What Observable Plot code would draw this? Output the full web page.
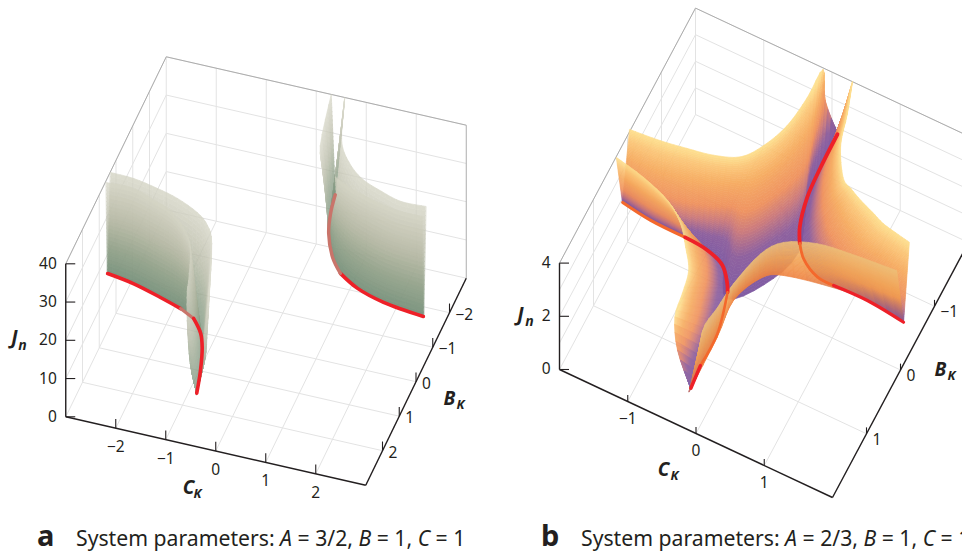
<!DOCTYPE html>
<html><head><meta charset="utf-8">
<script src="https://cdn.jsdelivr.net/npm/d3@7"></script>
<script src="https://cdn.jsdelivr.net/npm/@observablehq/plot@0.6"></script>
<style>
html,body{margin:0;padding:0;background:#fff;width:962px;height:551px;overflow:hidden;font-family:"Noto Sans",sans-serif;color:#231f20}
#chart svg{display:block}
#cap{position:relative;height:36px;width:962px;white-space:nowrap}
#cap span{position:absolute;top:11px;font-size:21.2px;line-height:24px}
#cap b{position:absolute;top:5px;font-size:29px;line-height:30px;font-weight:700}
.op95{opacity:.95}.op92{opacity:.92}.op90{opacity:.9}.op80{opacity:.8}.op76{opacity:.76}
</style></head><body>
<div id="chart"></div>
<div id="cap"><b style="left:37px">a</b><span style="left:76px">System parameters: <i>A</i> = 3/2, <i>B</i> = 1, <i>C</i> = 1</span>
<b style="left:541px">b</b><span style="left:581px">System parameters: <i>A</i> = 2/3, <i>B</i> = 1, <i>C</i> = 1</span></div>
<script>
// ---------- axis values ----------
const ticksCA=[-2,-1,0,1,2], ticksBA=[-2,-1,0,1,2], ticksJA=[0,10,20,30,40];
const ticksCB=[-1,0,1], ticksBB=[-1,0,1], ticksJB=[0,2,4];
const gridJB=[1,2,3,4];
// ---------- panel a: [C_K, B_K, J_n] ----------
const redLeftA=[[-3.03,.41,14],[-2.48,.52,14],[-1.87,.72,14],[-1.41,.89,14],[-1.09,1.07,14],[-.83,1.42,14],[-.68,1.78,14],[-.51,2.39,14],[-.38,3,14]];
const redRightA=[[3.03,-.35,14],[2.19,-.48,14],[1.6,-.69,14],[1.16,-.98,14],[.88,-1.35,14],[.6,-1.95,14],[.46,-2.48,14],[.38,-3,14]];
const topLeftBackA=[[-2.99,.35,40],[-2.52,.37,40],[-2,.49,40],[-1.56,.63,40],[-1.08,.88,40],[-.78,1.16,40],[-.55,1.6,40],[-.13,3,40],[-.17,3,31],[-.21,3,23.8],[-.35,3,16.6],[-.38,3,14]];
const topLeftFrontA=[[-2.98,.64,40],[-2.5,.62,40],[-2.05,.77,40],[-1.58,.99,40],[-1.2,1.35,40],[-.9,1.83,40],[-.64,2.71,40],[-.57,3,40],[-.57,3,32.4],[-.51,3,21.4],[-.38,3,14]];
const topRightFrontA=[[3,-.35,40],[2.5,-.37,40],[2,-.49,40],[1.56,-.63,40],[1.08,-.88,40],[.78,-1.16,40],[.55,-1.6,40],[.3,-3,40]];
const topRightBackA=[[2.98,-.64,40],[2.5,-.62,40],[2.05,-.77,40],[1.58,-.99,40],[1.2,-1.35,40],[.9,-1.83,40],[.65,-2.7,40],[.57,-3,40]];
// ---------- panel b: [C_K, B_K, J_n] ----------
const redOneB=[[-2.02,.1,1.7],[-1.58,.16,1.7],[-1.07,.17,1.7],[-.73,.2,1.7],[-.46,.3,1.7],[-.29,.5,1.7],[-.23,.61,1.7],[-.09,1.19,1.7],[-.09,1.69,1.7],[-.06,2.03,1.7]];
const redTwoB=[[.07,-2.02,1.7],[.08,-1.5,1.7],[.11,-1.05,1.7],[.21,-.63,1.7],[.31,-.43,1.7],[.45,-.26,1.7],[.73,-.11,1.7],[.97,-.1,1.7],[1.46,-.11,1.7],[2.02,-.05,1.7]];
const archTopB=[[-2.01,-.09,4],[-1.58,-.13,4],[-1.22,-.19,4],[-.87,-.26,4],[-.54,-.4,4],[-.34,-.68,4],[-.19,-1.07,4],[-.13,-1.54,4],[-.12,-1.98,4],[-.1,-2,2.82],[.07,-2.02,1.75]];
const archBaseB=[[-2.02,.1,1.7],[-1.58,.16,1.7],[-1.07,.17,1.7],[-.73,.2,1.7],[-.46,.3,1.7],[-.2,.7,1.7],[.15,.3,1.7],[.35,-.3,1.7],[.11,-1.05,1.7],[.08,-1.5,1.7],[.07,-2.02,1.7]];
const archRightB=[[.3,-2,4],[.44,-1.57,4],[.56,-1.13,4],[.79,-.74,4],[.95,-.65,4],[1.14,-.56,4],[1.35,-.48,4],[1.55,-.4,4],[1.8,-.35,4],[1.97,-.32,4]];
const archLeftB=[[-1.99,.34,4],[-1.55,.43,4],[-1.12,.58,4],[-.83,.79,4],[-.62,1.06,4],[-.44,1.33,4],[-.37,1.66,4],[-.31,2,4],[-.27,2,2.8],[-.08,2,1.62]];
const bandLowB=[[-.06,2.03,1.7],[-.06,2.03,1.7],[-.02,1.34,2],[-.06,.78,2],[.12,.34,2],[.37,.17,2],[1.03,.03,2],[1.51,-.01,2],[2.02,-.05,1.7]];
const bandTopB=[[.07,2,2.55],[.1,2,4],[.13,1.63,4],[.17,1.23,4],[.3,.7,4],[.5,.42,4],[.9,.24,4],[1.35,.17,4],[2,.11,4]];
// how quickly each column of a heat sheet leaves purple
const toneArch=[.75,.75,.85,1.05,1.3,1.45,1.45,1.3,1.15,1,1];
const toneRight=[1.1,1.2,1.3,1.3,1.15,1,.9,.8,.75,.7];
const toneLeft=[.7,.7,.75,.85,1.05,1.3,1.3,1.3,1.1,1];

// ---------- oblique views of the two boxes ----------
const viewOf=v=>([c,b,j])=>[v.x0+v.xc*c+v.xb*b, v.y0+v.yc*c+v.yb*b+v.yj*j];
const viewA=viewOf({x0:265.5,xc:50,xb:-16.75,y0:347,yc:11.4,yb:34.5,yj:-3.825});
const viewB=viewOf({x0:763.5,xc:68.25,xb:-34,y0:305.5,yc:32,yb:63.75,yj:-26.6});

// ---------- colours ----------
const rampGreen=d3.scaleLinear([0,.3,.6,1],["#76907a","#94a38b","#b8baa6","#d6d5c6"]);
const rampHeat=d3.scaleLinear([0,.15,.3,.45,.7,.88,1],["#7b559f","#8a5a9a","#c97578","#ef8f5a","#f6a95c","#fbc474","#fddf8c"]);
const rampBand=d3.scaleLinear([.1,.3,.6,1],["#ee7f3e","#f08f48","#f2a556","#eebf78"]);
const frac=(j,lo,hi)=>Math.max(0,Math.min(1,(j-lo)/(hi-lo)));
const greenAt=(j)=>rampGreen(frac(j,14,40));
const heatAt=tone=>(j,u)=>{
  const i=Math.min(Math.floor(u),tone.length-2),g=tone[i]+(tone[i+1]-tone[i])*(u-i);
  return rampHeat(Math.pow(frac(j,1.7,4),g));
};
const bandAt=(j,u)=>{
  const k=Math.max(0,Math.min(1,Math.max((u-5.5)/2,(1.5-u)/1.5))),f=frac(j,1.7,4);
  return d3.interpolateRgb(rampBand(f),"#7b559f")(k*Math.max(0,1-f/.45)*.95);
};

function spline(a,u){
  const i=Math.min(Math.floor(u),a.length-2),t=u-i;
  const p0=a[Math.max(i-1,0)],p1=a[i],p2=a[i+1],p3=a[Math.min(i+2,a.length-1)];
  return p1.map((_,k)=>.5*(2*p1[k]+(p2[k]-p0[k])*t+(2*p0[k]-5*p1[k]+4*p2[k]-p3[k])*t*t+(3*p1[k]-p0[k]-3*p2[k]+p3[k])*t*t*t));
}
function sheet(view,base,top,colorAt,sub=4,rows=24){
  const n=Math.max(base.length,top.length);
  const pad=a=>a.concat(Array(n-a.length).fill(a[a.length-1]));
  const B=pad(base),T=pad(top),cells=[];
  const mesh=(u,t)=>{const p=spline(B,u),q=spline(T,u);return p.map((v,k)=>v+(q[k]-v)*t);};
  for(let k=0;k<(n-1)*sub;k++){
    const u0=k/sub,u1=(k+1)/sub;
    for(let r=0;r<rows;r++){
      const t0=r/rows,t1=(r+1)/rows,p=view(mesh(u0,t0));
      cells.push({color:colorAt(mesh((u0+u1)/2,(t0+t1)/2)[2],(u0+u1)/2),
        geometry:{type:"Polygon",coordinates:[[p,view(mesh(u1,t0)),view(mesh(u1,t1)),view(mesh(u0,t1)),p]]}});
    }
  }
  return cells;
}
const surface=(cells,cls)=>Plot.geo(cells,{geometry:d=>d.geometry,fill:d=>d.color,stroke:d=>d.color,strokeWidth:.7,className:cls});
const segs=(view,list,o)=>Plot.link(list,{x1:d=>view(d[0])[0],y1:d=>view(d[0])[1],x2:d=>view(d[1])[0],y2:d=>view(d[1])[1],...o});
const redPiece=(view,arr,from,to,color,w)=>Plot.line(arr.slice(from,to+1),{x:d=>view(d)[0],y:d=>view(d)[1],stroke:color,strokeWidth:w,curve:"catmull-rom"});

function box(view,cs,bs,js,gridJ,cr,br,jm){
  const g=[];
  cs.forEach(c=>{g.push([[c,-br,0],[c,br,0]],[[c,-br,0],[c,-br,jm]]);});
  bs.forEach(b=>{g.push([[-cr,b,0],[cr,b,0]],[[-cr,b,0],[-cr,b,jm]]);});
  gridJ.forEach(j=>{g.push([[-cr,-br,j],[cr,-br,j]],[[-cr,-br,j],[-cr,br,j]]);});
  g.push([[-cr,-br,0],[cr,-br,0]],[[-cr,-br,0],[-cr,br,0]],[[-cr,-br,0],[-cr,-br,jm]],[[cr,-br,0],[cr,br,0]]);
  const edge=[[[-cr,br,jm],[-cr,-br,jm]],[[-cr,-br,jm],[cr,-br,jm]],[[cr,-br,jm],[cr,-br,0]]];
  const axis=[[[-cr,br,0],[-cr,br,jm]],[[-cr,br,0],[cr,br,0]],[[cr,br,0],[cr,-br,0]]];
  const hgt=jm*.06;
  const tk=[...cs.map(c=>[[c,br,0],[c,br,hgt]]),...bs.map(b=>[[cr,b,0],[cr,b,hgt]])];
  return {grid:segs(view,g,{stroke:"#e3e3e3",strokeWidth:1}),
    edge:segs(view,edge,{stroke:"#adadad",strokeWidth:1}),
    axis:segs(view,axis,{stroke:"#231f20",strokeWidth:1.4}),
    ticks:segs(view,tk,{stroke:"#231f20",strokeWidth:1.1}),
    jt:Plot.link(js,{x1:j=>view([-cr,br,j])[0],y1:j=>view([-cr,br,j])[1],x2:j=>view([-cr,br,j])[0]+9.5,y2:j=>view([-cr,br,j])[1],stroke:"#231f20",strokeWidth:1.1})};
}
const num=v=>v<0?"\u2212"+(-v):String(v);
const tickText=(vals,at,o)=>Plot.text(vals,{x:v=>at(v)[0],y:v=>at(v)[1],text:num,fontSize:15.5,fill:"#231f20",...o});
const nameText=(str,p,size)=>Plot.text([str],{x:()=>p[0],y:()=>p[1],text:d=>d,fontSize:size,fontWeight:700,fontStyle:"italic",fill:"#231f20"});

const a=box(viewA,ticksCA,ticksBA,ticksJA,ticksJA.slice(1),3,3,40);
const b=box(viewB,ticksCB,ticksBB,ticksJB,gridJB,2,2,4);
const RED="#ee2028",DULL_A="#c9746a",ORANGE="#f4682c";

const chart=Plot.plot({
  width:962,height:515,margin:0,
  style:{fontFamily:'"Noto Sans",sans-serif',background:"#fff"},
  x:{domain:[0,962],range:[0,962],axis:null},
  y:{domain:[0,515],range:[0,515],axis:null},
  color:{type:"identity"},
  marks:[
    a.grid,a.edge,
    surface(sheet(viewA,redLeftA,topLeftBackA,greenAt),"op80"),
    surface(sheet(viewA,redRightA,topRightBackA,greenAt),"op80"),
    surface(sheet(viewA,redLeftA,topLeftFrontA,greenAt),"op76"),
    surface(sheet(viewA,redRightA,topRightFrontA,greenAt),"op76"),
    redPiece(viewA,redLeftA,0,3,RED,3.6),redPiece(viewA,redLeftA,3,4,DULL_A,3.2),redPiece(viewA,redLeftA,4,8,RED,3.6),
    redPiece(viewA,redRightA,0,3,RED,3.6),redPiece(viewA,redRightA,3,7,DULL_A,3.4),
    a.axis,a.ticks,a.jt,
    tickText(ticksCA,c=>viewA([c,3,0]),{dy:19}),
    tickText(ticksBA,v=>viewA([3,v,0]),{dx:6,dy:2,textAnchor:"start"}),
    tickText(ticksJA,j=>viewA([-3,3,j]),{dx:-9,textAnchor:"end"}),
    nameText("C",[188,487],19),nameText("\u039a",[197,493],13),
    nameText("B",[449,398],19),nameText("\u039a",[460,404],13),
    nameText("J",[14,337],19),nameText("n",[22,345],14),

    b.grid,b.edge,
    surface(sheet(viewB,archBaseB,archTopB,heatAt(toneArch),4,50),"op95"),
    surface(sheet(viewB,redTwoB,archRightB,heatAt(toneRight),4,50),"op95"),
    surface(sheet(viewB,redOneB,archLeftB,heatAt(toneLeft),4,50),"op90"),
    surface(sheet(viewB,bandLowB,bandTopB,bandAt,4,30),"op92"),
    redPiece(viewB,redOneB,0,2,ORANGE,3.2),redPiece(viewB,redOneB,2,6,RED,3.8),redPiece(viewB,redOneB,6,8,ORANGE,2.6),redPiece(viewB,redOneB,8,9,RED,3.4),
    redPiece(viewB,redTwoB,0,4,RED,3.8),redPiece(viewB,redTwoB,4,7,ORANGE,2.8),redPiece(viewB,redTwoB,7,9,RED,3.2),
    b.axis,b.ticks,b.jt,
    tickText(ticksCB,c=>viewB([c,2,0]),{dy:18}),
    tickText(ticksBB,v=>viewB([2,v,0]),{dx:6,dy:6,textAnchor:"start"}),
    tickText(ticksJB,j=>viewB([-2,2,j]),{dx:-9,textAnchor:"end"}),
    nameText("C",[663,469],19),nameText("\u039a",[674,475],13),
    nameText("B",[940,369],19),nameText("\u039a",[951,375],13),
    nameText("J",[520,314],19),nameText("n",[529,321],14)
  ]
});
document.getElementById("chart").appendChild(chart);
</script></body></html>
